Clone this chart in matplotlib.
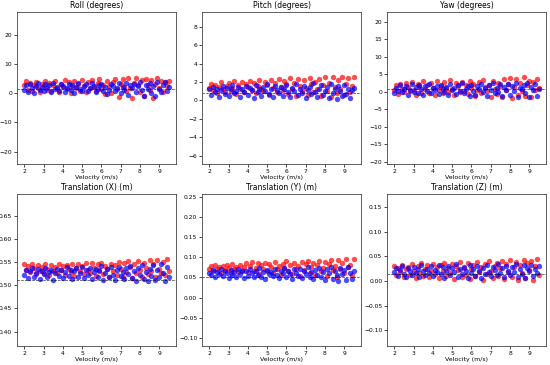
import numpy as np
import matplotlib
matplotlib.use("Agg")
import matplotlib.pyplot as plt

# velocities (m/s) shared by every panel
velocity = [
    2.0, 2.1, 2.2, 2.3, 2.4, 2.5, 2.6, 2.7, 2.8, 2.9, 3.0, 3.1, 3.2, 3.3, 3.4, 3.5, 3.6, 3.7, 3.8, 3.9,
    4.0, 4.1, 4.2, 4.3, 4.4, 4.5, 4.6, 4.7, 4.8, 4.9, 5.0, 5.1, 5.2, 5.3, 5.4, 5.5, 5.6, 5.7, 5.8, 5.9,
    6.0, 6.1, 6.2, 6.3, 6.4, 6.5, 6.6, 6.7, 6.8, 6.9, 7.0, 7.1, 7.2, 7.3, 7.4, 7.5, 7.6, 7.7, 7.8, 7.9,
    8.0, 8.1, 8.2, 8.3, 8.4, 8.5, 8.6, 8.7, 8.8, 8.9, 9.0, 9.1, 9.2, 9.3, 9.4, 9.5,
]

titles = ["Roll (degrees)", "Pitch (degrees)", "Yaw (degrees)",
          "Translation (X) (m)", "Translation (Y) (m)", "Translation (Z) (m)"]

roll_red = [
    2.8, 4.1, 1.2, 3.5, 0.6, 2.9, 3.8, 1.7, 0.3, 3.2, 2.4, 4.0, 1.1, 3.6, 0.8, 2.7, 4.3, 1.9, 0.4, 3.3,
    2.1, 4.5, 1.4, 3.9, 0.2, 2.6, 4.2, 1.6, 3.1, 0.9, 4.6, 2.3, 0.5, 3.7, 1.8, 4.4, 2.0, 0.7, 3.4, 4.8,
    1.3, 2.8, -0.4, 4.1, 2.5, 0.1, 3.8, 4.7, 1.5, -1.2, 3.0, 4.9, 2.2, 0.6, 5.1, 1.9, -1.5, 3.6, 5.3, 2.7,
    0.3, 4.4, -0.8, 5.0, 2.9, 1.0, 4.6, -1.8, 3.3, 5.2, 1.7, 4.0, 0.5, 3.9, 2.4, 4.3,
]
roll_blue = [
    1.2, 2.8, 0.4, 3.1, 1.9, 0.1, 2.5, 3.4, 1.0, 2.2, 0.6, 3.0, 1.6, 2.7, 0.3, 3.5, 1.3, 2.0, 0.8, 3.2,
    2.4, 0.5, 1.8, 3.3, 1.1, 2.9, 0.2, 2.1, 3.6, 1.5, 0.7, 2.6, 3.0, 0.9, 1.7, 3.4, 2.3, 0.4, 1.4, 2.8,
    3.1, 0.6, 2.0, -0.3, 1.2, 3.3, 2.5, 0.8, 1.9, 3.5, 0.0, 2.2, 1.0, 3.6, -0.6, 2.7, 1.6, 3.2, 0.3, 2.4,
    3.7, 1.1, -0.9, 2.9, 1.5, 3.4, 0.2, 2.6, -1.0, 3.8, 1.3, 0.5, 2.8, 3.9, 0.9, 2.1,
]
pitch_red = [
    1.4, 1.8, 1.1, 1.7, 0.8, 1.5, 2.0, 1.2, 0.9, 1.6, 1.9, 1.0, 1.4, 2.1, 0.7, 1.7, 1.3, 2.0, 0.9, 1.8,
    1.5, 2.1, 1.1, 1.9, 0.8, 1.6, 2.2, 1.3, 1.0, 2.0, 1.7, 0.6, 2.2, 1.4, 1.9, 0.9, 2.3, 1.5, 1.1, 2.1,
    1.8, 0.7, 2.4, 1.2, 1.9, 0.5, 2.3, 1.6, 1.0, 2.2, 1.4, 0.6, 2.4, 1.8, 0.9, 2.0, 1.3, 2.3, 0.5, 1.7,
    2.5, 1.0, 1.9, 0.4, 2.6, 1.5, 0.8, 2.2, 1.2, 2.5, 0.6, 1.8, 2.4, 0.9, 1.6, 2.5,
]
pitch_blue = [
    1.2, 0.6, 1.5, 0.9, 1.3, 0.4, 1.1, 1.6, 0.7, 1.4, 0.5, 1.2, 1.7, 0.8, 1.0, 1.5, 0.4, 1.3, 0.9, 1.6,
    0.6, 1.4, 1.1, 0.3, 1.7, 0.9, 1.2, 0.5, 1.5, 1.0, 1.8, 0.7, 1.3, 0.4, 1.6, 1.1, 0.8, 1.5, 0.5, 1.2,
    1.7, 0.9, 0.4, 1.4, 1.0, 1.8, 0.6, 1.3, 0.8, 1.6, 0.3, 1.1, 1.5, 0.7, 1.9, 0.9, 0.4, 1.3, 1.7, 0.6,
    1.0, 1.5, 0.3, 1.8, 0.8, 1.2, 0.2, 1.6, 1.0, 0.5, 1.7, 0.7, 1.3, 0.3, 1.1, 1.4,
]
yaw_red = [
    0.5, 1.8, -0.6, 2.2, 0.9, -0.2, 2.6, 1.3, 0.1, 2.9, 0.6, -0.8, 2.1, 1.5, -0.3, 3.0, 0.8, 1.9, -0.5, 2.4,
    1.1, -0.9, 3.1, 0.4, 1.7, -0.4, 2.8, 1.2, 0.0, 3.3, 0.7, -1.0, 2.5, 1.6, -0.2, 2.9, 0.3, 1.9, -0.7, 3.2,
    1.0, 2.3, -1.2, 0.6, 2.7, -0.5, 3.4, 1.4, 0.2, 2.0, -1.4, 3.0, 0.9, -0.6, 2.6, 1.7, -1.6, 3.5, 0.4, 2.2,
    4.0, -1.8, 1.3, 3.6, -0.9, 2.4, 0.1, 4.2, -1.3, 1.8, 3.1, -1.5, 2.8, 0.5, 3.7, 1.2,
]
yaw_blue = [
    -0.5, 1.2, 0.3, 1.8, -0.2, 0.9, 1.5, -0.8, 0.6, 2.1, 0.0, 1.3, -0.4, 1.9, 0.7, -0.9, 1.6, 0.2, 2.2, -0.3,
    1.0, 0.4, 1.7, -0.7, 2.0, 0.8, -0.1, 1.4, -1.0, 2.3, 0.5, 1.1, -0.6, 1.8, 0.1, 2.4, -0.3, 0.9, 1.5, -1.1,
    2.0, 0.3, -0.8, 1.6, 0.7, 2.2, -0.2, 1.2, -1.2, 1.9, 0.4, 2.5, -0.5, 1.0, 0.0, 2.1, -1.3, 1.4, 0.6, 2.3,
    -0.9, 1.7, 0.2, 2.6, -1.4, 1.1, 0.8, 2.0, -0.4, 2.4, -1.6, 1.3, 0.5, 2.2, -1.1, 0.7,
]
tx_red = [
    0.545, 0.532, 0.541, 0.528, 0.546, 0.537, 0.524, 0.544, 0.531, 0.540, 0.527, 0.546, 0.535, 0.522, 0.543, 0.530, 0.539, 0.526, 0.545, 0.533,
    0.541, 0.523, 0.544, 0.536, 0.529, 0.547, 0.520, 0.538, 0.546, 0.531, 0.542, 0.525, 0.549, 0.534, 0.527, 0.548, 0.538, 0.521, 0.545, 0.532,
    0.549, 0.524, 0.541, 0.536, 0.518, 0.547, 0.530, 0.543, 0.522, 0.550, 0.535, 0.517, 0.548, 0.528, 0.552, 0.539, 0.516, 0.546, 0.526, 0.553,
    0.533, 0.519, 0.549, 0.537, 0.524, 0.555, 0.530, 0.545, 0.518, 0.554, 0.536, 0.527, 0.551, 0.522, 0.557, 0.531,
]
tx_blue = [
    0.522, 0.534, 0.516, 0.530, 0.537, 0.519, 0.527, 0.535, 0.514, 0.531, 0.524, 0.538, 0.517, 0.529, 0.533, 0.512, 0.526, 0.536, 0.520, 0.532,
    0.515, 0.528, 0.539, 0.521, 0.534, 0.513, 0.530, 0.537, 0.518, 0.526, 0.540, 0.516, 0.533, 0.523, 0.538, 0.514, 0.529, 0.536, 0.519, 0.531,
    0.541, 0.512, 0.527, 0.535, 0.517, 0.539, 0.522, 0.511, 0.532, 0.540, 0.520, 0.528, 0.513, 0.537, 0.525, 0.542, 0.515, 0.531, 0.510, 0.538,
    0.523, 0.543, 0.514, 0.529, 0.509, 0.536, 0.521, 0.544, 0.512, 0.533, 0.518, 0.545, 0.526, 0.510, 0.540, 0.517,
]
ty_red = [
    0.072, 0.078, 0.065, 0.080, 0.070, 0.076, 0.062, 0.079, 0.068, 0.081, 0.073, 0.060, 0.083, 0.071, 0.077, 0.064, 0.082, 0.069, 0.075, 0.086,
    0.063, 0.079, 0.088, 0.067, 0.074, 0.085, 0.058, 0.080, 0.072, 0.087, 0.066, 0.083, 0.076, 0.061, 0.089, 0.070, 0.078, 0.056, 0.084, 0.073,
    0.090, 0.065, 0.081, 0.059, 0.087, 0.071, 0.079, 0.054, 0.088, 0.068, 0.083, 0.092, 0.062, 0.076, 0.086, 0.057, 0.080, 0.091, 0.066, 0.074,
    0.089, 0.053, 0.084, 0.094, 0.069, 0.078, 0.051, 0.093, 0.072, 0.087, 0.060, 0.096, 0.075, 0.082, 0.055, 0.095,
]
ty_blue = [
    0.062, 0.055, 0.068, 0.051, 0.064, 0.058, 0.071, 0.053, 0.066, 0.060, 0.049, 0.069, 0.057, 0.063, 0.052, 0.072, 0.059, 0.065, 0.048, 0.067,
    0.054, 0.070, 0.061, 0.050, 0.066, 0.057, 0.073, 0.052, 0.063, 0.047, 0.069, 0.058, 0.064, 0.053, 0.071, 0.056, 0.049, 0.067, 0.060, 0.074,
    0.051, 0.065, 0.058, 0.046, 0.070, 0.062, 0.054, 0.072, 0.048, 0.066, 0.059, 0.075, 0.052, 0.063, 0.045, 0.069, 0.057, 0.073, 0.050, 0.064,
    0.044, 0.071, 0.061, 0.076, 0.047, 0.067, 0.055, 0.042, 0.074, 0.058, 0.068, 0.043, 0.077, 0.060, 0.046, 0.065,
]
tz_red = [
    0.031, 0.012, 0.027, 0.018, 0.033, 0.008, 0.024, 0.029, 0.011, 0.034, 0.020, 0.006, 0.030, 0.016, 0.036, 0.010, 0.025, 0.032, 0.007, 0.021,
    0.035, 0.013, 0.028, 0.005, 0.033, 0.019, 0.037, 0.009, 0.026, 0.015, 0.034, 0.004, 0.030, 0.022, 0.038, 0.008, 0.027, 0.012, 0.036, 0.003,
    0.024, 0.033, 0.010, 0.039, 0.017, 0.029, 0.002, 0.035, 0.014, 0.040, 0.021, 0.006, 0.031, 0.037, 0.009, 0.026, 0.041, 0.003, 0.034, 0.018,
    0.042, 0.007, 0.028, 0.038, 0.001, 0.032, 0.015, 0.043, 0.005, 0.036, 0.022, 0.040, 0.002, 0.030, 0.044, 0.011,
]
tz_blue = [
    0.018, 0.026, 0.010, 0.022, 0.031, 0.014, 0.008, 0.027, 0.019, 0.012, 0.029, 0.016, 0.024, 0.007, 0.032, 0.020, 0.011, 0.025, 0.015, 0.030,
    0.009, 0.023, 0.017, 0.033, 0.013, 0.028, 0.006, 0.021, 0.031, 0.011, 0.026, 0.018, 0.034, 0.008, 0.024, 0.014, 0.029, 0.019, 0.005, 0.032,
    0.016, 0.025, 0.010, 0.030, 0.021, 0.006, 0.027, 0.013, 0.033, 0.018, 0.009, 0.028, 0.022, 0.012, 0.034, 0.015, 0.026, 0.007, 0.031, 0.020,
    0.011, 0.029, 0.017, 0.035, 0.008, 0.024, 0.014, 0.032, 0.006, 0.027, 0.019, 0.033, 0.010, 0.025, 0.016, 0.030,
]

red_series = [roll_red, pitch_red, yaw_red, tx_red, ty_red, tz_red]
blue_series = [roll_blue, pitch_blue, yaw_blue, tx_blue, ty_blue, tz_blue]

# dashed reference level in each panel
ref_levels = [1.36, 0.76, 0.66, 0.512, 0.051, 0.0135]

# y-range of each panel
y_limits = [(-24.2, 27.7), (-6.9, 9.6), (-20.6, 22.7),
            (0.369, 0.697), (-0.12, 0.257), (-0.132, 0.176)]

fig, axes = plt.subplots(2, 3, figsize=(5.5, 3.65), dpi=100)
fig.subplots_adjust(left=0.031, right=0.993, top=0.967, bottom=0.052,
                    wspace=0.164, hspace=0.197)

for i, ax in enumerate(axes.flat):
    ax.scatter(velocity, red_series[i], color="red", alpha=0.7, s=15, linewidths=0)
    ax.scatter(velocity, blue_series[i], color="blue", alpha=0.7, s=15, linewidths=0)
    ax.axhline(ref_levels[i], color="black", linestyle="--", linewidth=0.5, alpha=0.8)
    ax.set_ylim(*y_limits[i])
    ax.set_xticks([2, 3, 4, 5, 6, 7, 8, 9])
    ax.set_title(titles[i], fontsize=5.5, pad=3)
    ax.set_xlabel("Velocity (m/s)", fontsize=4.5, labelpad=1)
    ax.tick_params(labelsize=4.3, length=2, width=0.5, pad=1.5)
    for sp in ax.spines.values():
        sp.set_linewidth(0.6)
        sp.set_color("#444444")

fig.savefig("out.png", dpi=100)
